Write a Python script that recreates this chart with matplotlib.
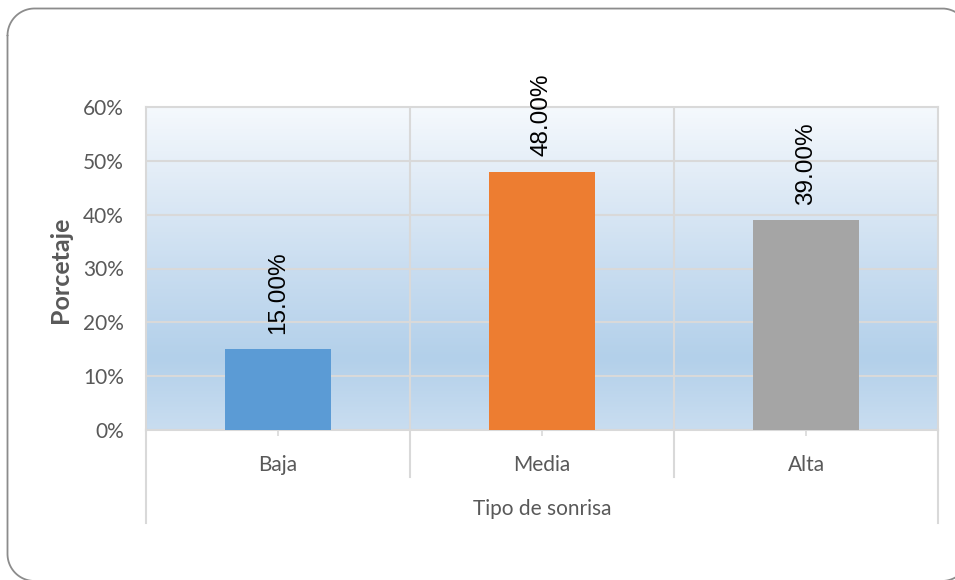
import matplotlib
matplotlib.use("Agg")
import matplotlib.pyplot as plt
import numpy as np
from matplotlib.colors import LinearSegmentedColormap
from matplotlib.transforms import blended_transform_factory
from matplotlib.ticker import FuncFormatter

categories = ["Baja", "Media", "Alta"]
values = [0.15, 0.48, 0.39]
labels = ["15.00%", "48.00%", "39.00%"]
colors = ["#5B9BD5", "#ED7D31", "#A5A5A5"]
yticks = [0, 0.1, 0.2, 0.3, 0.4, 0.5, 0.6]
xlabel = "Tipo de sonrisa"
ylabel = "Porcetaje"

W, H = 955, 580
fig = plt.figure(figsize=(W / 100, H / 100), dpi=100)
fig.patch.set_facecolor("white")

# rounded frame in pixel coordinates (y downward), extends past right/bottom
fax = fig.add_axes([0, 0, 1, 1], zorder=10)
fax.set_xlim(0, W)
fax.set_ylim(H, 0)
fax.axis("off")
fax.patch.set_alpha(0)
fx0, fy0, fx1, fy1, r = 7.5, 8.5, 969, 581, 27
def arc(cx, cy, a0, a1):
    t = np.radians(np.linspace(a0, a1, 40))
    return cx + r * np.cos(t), cy + r * np.sin(t)
segs = [arc(fx0 + r, fy0 + r, 180, 270), arc(fx1 - r, fy0 + r, 270, 360),
        arc(fx1 - r, fy1 - r, 0, 90), arc(fx0 + r, fy1 - r, 90, 180)]
px = np.concatenate([s[0] for s in segs] + [segs[0][0][:1]])
py = np.concatenate([s[1] for s in segs] + [segs[0][1][:1]])
fax.plot(px, py, color="#8c8c8c", lw=1.3, solid_capstyle="round")

left, right, top, bottom = 146, 938, 107, 430
ax = fig.add_axes([left / W, 1 - bottom / H, (right - left) / W, (bottom - top) / H])
ax.set_xlim(-0.5, 2.5)
ax.set_ylim(0, 0.6)

# gradient background
cmap = LinearSegmentedColormap.from_list("bg", [
    (0.0, "#c9ddf0"),
    (0.22, "#b3d0ea"),
    (0.5, "#c9ddf0"),
    (0.8, "#e3edf7"),
    (1.0, "#f5f9fd"),
])
grad = np.linspace(0, 1, 256).reshape(-1, 1)
ax.imshow(grad, extent=(-0.5, 2.5, 0, 0.6), origin="lower", aspect="auto",
          cmap=cmap, zorder=0)

for yv in yticks[1:-1]:
    ax.axhline(yv, color="#d9d9d9", lw=1.5, zorder=1)
for xv in [0.5, 1.5]:
    ax.axvline(xv, color="#d9d9d9", lw=1.5, zorder=1)

x = np.arange(len(categories))
ax.bar(x, values, width=0.4, color=colors, zorder=3)

for xi, v, lab in zip(x, values, labels):
    ax.annotate(lab, (xi, v), xytext=(0, 11), textcoords="offset points",
                rotation=90, ha="center", va="bottom", fontsize=17.5,
                family="Liberation Sans", color="black", zorder=4)

for s in ax.spines.values():
    s.set_color("#d9d9d9")
    s.set_linewidth(1.5)

ax.set_yticks(yticks)
ax.yaxis.set_major_formatter(FuncFormatter(lambda v, p: f"{v*100:.0f}%"))
ax.tick_params(axis="y", length=0, pad=16, labelsize=15, labelcolor="#595959")
for t in ax.get_yticklabels():
    t.set_family("Lato")

ax.set_xticks(x)
ax.set_xticklabels(categories)
ax.tick_params(axis="x", length=4, width=1.2, color="#d9d9d9", pad=14,
               labelsize=15, labelcolor="#595959")
for t in ax.get_xticklabels():
    t.set_family("Lato")

# multi-level category axis lines
bt = blended_transform_factory(ax.transData, fig.transFigure)
for xv, yb in [(-0.5, 523), (0.5, 477), (1.5, 477), (2.5, 523)]:
    ax.plot([xv, xv], [1 - bottom / H, 1 - yb / H], transform=bt, color="#d9d9d9",
            lw=1.5, clip_on=False, zorder=1)

ax.text(1, 1 - 509 / H, xlabel, transform=bt, ha="center", va="center",
        fontsize=15, color="#595959", family="Lato")

fig.text(60 / W, 1 - 270 / H, ylabel, rotation=90, ha="center", va="center",
         fontsize=18, fontweight="bold", color="#595959", family="Lato")

fig.savefig("out.png", dpi=100)
